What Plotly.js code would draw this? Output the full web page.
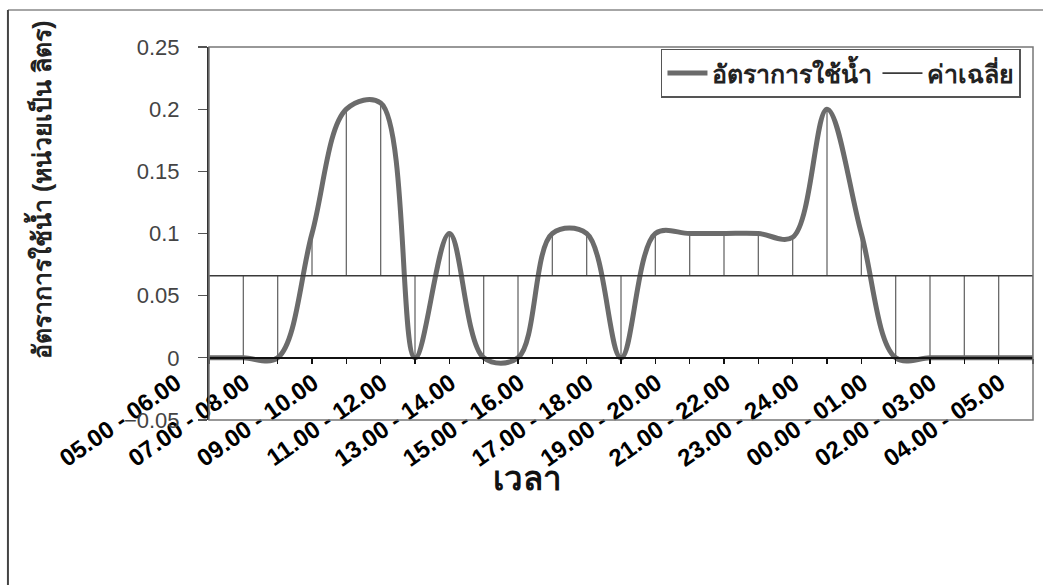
<!DOCTYPE html>
<html>
<head>
<meta charset="utf-8">
<script src="https://cdn.plot.ly/plotly-3.0.1.min.js"></script>
<style>
  html, body { margin: 0; padding: 0; background: #ffffff; }
  #chart { width: 1043px; height: 585px; }
</style>
</head>
<body>
<div id="chart"></div>
<script>
// ---- data ----
const categories = [
  '05.00 - 06.00', '06.00 - 07.00', '07.00 - 08.00', '08.00 - 09.00',
  '09.00 - 10.00', '10.00 - 11.00', '11.00 - 12.00', '12.00 - 13.00',
  '13.00 - 14.00', '14.00 - 15.00', '15.00 - 16.00', '16.00 - 17.00',
  '17.00 - 18.00', '18.00 - 19.00', '19.00 - 20.00', '20.00 - 21.00',
  '21.00 - 22.00', '22.00 - 23.00', '23.00 - 24.00', '24.00 - 00.00',
  '00.00 - 01.00', '01.00 - 02.00', '02.00 - 03.00', '03.00 - 04.00',
  '04.00 - 05.00'
];
const usage = [
  0, 0, 0, 0.1, 0.2, 0.205, 0, 0.1, 0, 0,
  0.1, 0.1, 0, 0.1, 0.1, 0.1, 0.1, 0.097, 0.2, 0.1,
  0, 0, 0, 0, 0
];
const average = [
  0.066, 0.066, 0.066, 0.066, 0.066, 0.066, 0.066, 0.066, 0.066, 0.066,
  0.066, 0.066, 0.066, 0.066, 0.066, 0.066, 0.066, 0.066, 0.066, 0.066,
  0.066, 0.066, 0.066, 0.066, 0.066
];
const yTickValues = [-0.05, 0, 0.05, 0.1, 0.15, 0.2, 0.25];
const seriesNames = ['อัตราการใช้น้ำ', 'ค่าเฉลี่ย'];
const yTitle = 'อัตราการใช้น้ำ (หน่วยเป็น ลิตร)';
const xTitle = 'เวลา';

// tick labels: every other category is written
const tickText = categories.map((c, i) => (i % 2 === 0 ? c : ''));

// high-low lines from the average line to each usage value
const upDist = usage.map((v, i) => Math.max(v - average[i], 0));
const downDist = usage.map((v, i) => Math.max(average[i] - v, 0));

const thaiFont = '"Liberation Sans", Arial, "Noto Sans", sans-serif';

const traces = [
  {
    type: 'scatter', mode: 'lines', x: categories, y: average,
    name: seriesNames[1], showlegend: false, hoverinfo: 'skip',
    line: { color: 'rgba(0,0,0,0)', width: 0 },
    error_y: { type: 'data', symmetric: false, array: upDist, arrayminus: downDist,
               color: '#6a6a6a', thickness: 1.3, width: 0 }
  },
  {
    type: 'scatter', mode: 'lines', x: categories, y: usage,
    name: seriesNames[0],
    line: { color: '#6b6b6b', width: 5, shape: 'spline', smoothing: 1 }
  },
  {
    type: 'scatter', mode: 'lines', x: categories, y: average,
    name: seriesNames[1],
    line: { color: '#3a3a3a', width: 1.6 }
  }
];

const layout = {
  width: 1043, height: 585,
  margin: { l: 209, r: 10, t: 47, b: 165 },
  paper_bgcolor: '#ffffff', plot_bgcolor: '#ffffff',
  showlegend: true,
  legend: {
    orientation: 'h', x: 0.9854, xanchor: 'right', y: 0.995, yanchor: 'top',
    bgcolor: '#ffffff', bordercolor: '#555555', borderwidth: 1.5,
    font: { family: thaiFont, size: 25, color: '#222222', weight: 'bold' },
    itemwidth: 40
  },
  xaxis: {
    type: 'category', categoryorder: 'array', categoryarray: categories,
    range: [0, categories.length - 1],
    anchor: 'free', position: 0.05 / 0.3,
    showline: true, linecolor: '#111111', linewidth: 2,
    showgrid: false, zeroline: false,
    tickmode: 'array', tickvals: categories, ticktext: tickText,
    ticks: 'outside', ticklen: 5, tickwidth: 1.5, tickcolor: '#111111',
    tickangle: -35,
    ticklabelshift: -33, ticklabelstandoff: -4,
    tickfont: { family: '"Liberation Sans", Arial, sans-serif', size: 24, color: '#000000', weight: 'bold' },
    fixedrange: true
  },
  yaxis: {
    range: [-0.05, 0.25], domain: [0, 1],
    tickmode: 'array', tickvals: yTickValues,
    showline: true, linecolor: '#333333', linewidth: 2,
    showgrid: false, zeroline: false,
    ticks: 'outside', ticklen: 9, tickwidth: 1.3, tickcolor: '#555555',
    ticklabelstandoff: 14,
    tickfont: { family: '"Liberation Sans", Arial, sans-serif', size: 22, color: '#444444' },
    fixedrange: true
  },
  shapes: [
    { type: 'rect', xref: 'paper', yref: 'paper', x0: 0, x1: 1, y0: 0, y1: 1,
      line: { color: '#777777', width: 1.5 }, layer: 'above' },
    { type: 'line', xref: 'paper', yref: 'paper', x0: -0.244, x1: 1.02, y0: 1.099, y1: 1.099,
      line: { color: '#888888', width: 1.5 } },
    { type: 'line', xref: 'paper', yref: 'paper', x0: -0.244, x1: -0.244, y0: 1.099, y1: -0.45,
      line: { color: '#444444', width: 2 } }
  ],
  annotations: [
    { text: yTitle, xref: 'paper', yref: 'paper', x: -0.2063, y: 0.6166,
      xanchor: 'center', yanchor: 'middle', textangle: -90, showarrow: false,
      font: { family: thaiFont, size: 25, color: '#222222', weight: 'bold' } },
    { text: xTitle, xref: 'paper', yref: 'paper', x: 0.387, y: -0.158,
      xanchor: 'center', yanchor: 'middle', showarrow: false,
      font: { family: thaiFont, size: 33, color: '#111111', weight: 'bold' } }
  ]
};

Plotly.newPlot('chart', traces, layout, { displayModeBar: false, staticPlot: true });
</script>
</body>
</html>
